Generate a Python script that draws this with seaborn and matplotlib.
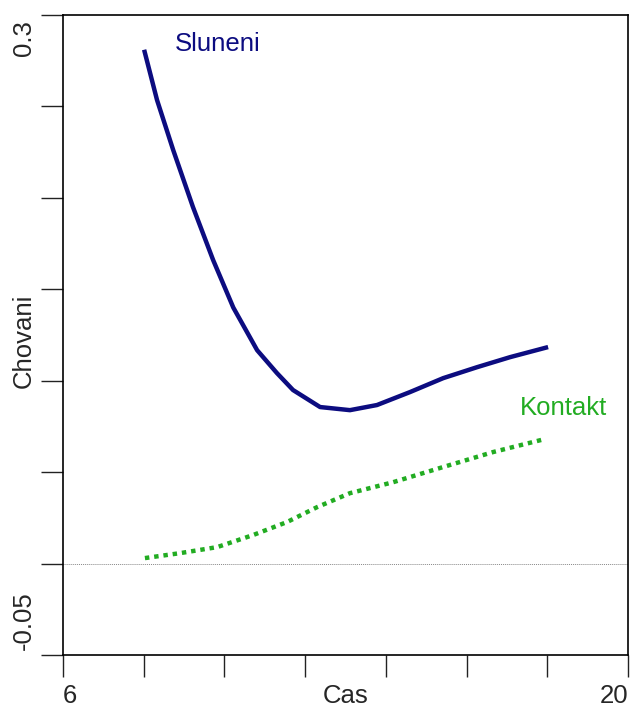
import matplotlib
matplotlib.use("Agg")
import matplotlib.pyplot as plt
import matplotlib.transforms as mtransforms
import seaborn as sns
import pandas as pd

sns.set_style("white")
plt.rcParams['font.family'] = ['Liberation Sans', 'DejaVu Sans']

# Data
sluneni_x = [8.01, 8.33, 8.73, 9.22, 9.72, 10.22, 10.81, 11.30, 11.70, 12.37,
             13.11, 13.78, 14.60, 15.42, 16.26, 17.08, 18.02]
sluneni_y = [0.281, 0.2535, 0.2262, 0.195, 0.166, 0.140, 0.1167, 0.1042, 0.0949, 0.0856,
             0.0839, 0.0867, 0.0938, 0.1014, 0.1074, 0.1129, 0.1184]
kontakt_x = [8.03, 8.90, 9.82, 10.71, 11.55, 12.30, 13.11, 14.18, 15.42, 16.66, 17.94]
kontakt_y = [0.0030, 0.0057, 0.0090, 0.0156, 0.0227, 0.0309, 0.0385, 0.0445, 0.0528, 0.0610, 0.0681]
x_ticks = [6, 8, 10, 12, 14, 16, 18, 20]
y_ticks = [-0.05, 0.0, 0.05, 0.10, 0.15, 0.20, 0.25, 0.30]

navy = "#0c0c80"
green = "#22ac22"

W, H = 633, 709
fig = plt.figure(figsize=(W / 100, H / 100), dpi=100)
ax = fig.add_axes([63 / W, 1 - 655 / H, (628 - 63) / W, (655 - 15) / H])

df_s = pd.DataFrame({"Cas": sluneni_x, "Chovani": sluneni_y})
df_k = pd.DataFrame({"Cas": kontakt_x, "Chovani": kontakt_y})

ax.axhline(0, color="#888888", lw=0.7, ls=(0, (1, 1)), zorder=1)
sns.lineplot(data=df_s, x="Cas", y="Chovani", ax=ax, color=navy, lw=3.2,
             solid_capstyle="butt", solid_joinstyle="round", estimator=None, sort=True)
sns.lineplot(data=df_k, x="Cas", y="Chovani", ax=ax, color=green, lw=3.2,
             estimator=None, sort=True)
ax.lines[-1].set_linestyle((0, (1, 1.1)))
ax.lines[-1].set_dash_capstyle("butt")

ax.set_xlim(6, 20)
ax.set_ylim(-0.05, 0.30)
ax.set_xticks(x_ticks)
ax.set_yticks(y_ticks)
ax.set_xticklabels([])
ax.set_yticklabels([])
ax.set_xlabel("")
ax.set_ylabel("")
ax.tick_params(axis="both", direction="out", length=16, width=1.0, color="#222222",
               bottom=True, left=True)
for s in ax.spines.values():
    s.set_color("black")
    s.set_linewidth(1.2)
    s.set_visible(True)

fs = 18.5
# x axis labels
bx = mtransforms.blended_transform_factory(ax.transData, fig.transFigure)
ylab = 1 - 696 / H
ax.text(6, ylab, "6", transform=bx, ha="left", va="center", fontsize=fs)
ax.text(20, ylab, "20", transform=bx, ha="right", va="center", fontsize=fs)
ax.text(13, ylab, "Cas", transform=bx, ha="center", va="center", fontsize=fs)
# y axis labels
by = mtransforms.blended_transform_factory(fig.transFigure, ax.transData)
xlab = 24 / W
ax.text(xlab, 0.297, "0.3", transform=by, ha="center", va="top", rotation=90, fontsize=fs)
ax.text(xlab, -0.0475, "-0.05", transform=by, ha="center", va="bottom", rotation=90, fontsize=fs)
ax.text(xlab, 0.122, "Chovani", transform=by, ha="center", va="center", rotation=90, fontsize=fs)

ax.text(9.84, 0.284, "Sluneni", color=navy, ha="center", va="center", fontsize=fs)
ax.text(18.4, 0.085, "Kontakt", color=green, ha="center", va="center", fontsize=fs)

fig.savefig("out.png", dpi=100)
